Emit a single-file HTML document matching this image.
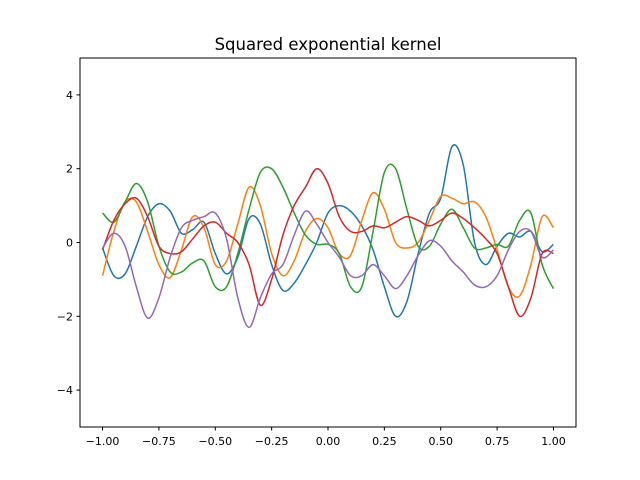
<!DOCTYPE html>
<html><head><meta charset="utf-8"><style>
body{margin:0;background:#fff;}
svg{display:block;font-family:"DejaVu Sans","Liberation Sans",sans-serif;}
</style></head><body>
<svg id="chart" width="640" height="480" viewBox="0 0 640 480" xmlns="http://www.w3.org/2000/svg">
<rect width="640" height="480" fill="#fff"/>
<text x="328" y="50" font-size="16.5" text-anchor="middle" fill="#000">Squared exponential kernel</text>
<g id="plot"></g>
<rect x="80" y="58" width="496" height="369" fill="none" stroke="#000" stroke-width="1"/>
<g id="xticks"></g><g id="yticks"></g>
</svg>
<script>
const xs = [];
for (let i = 0; i <= 40; i++) xs.push(-1 + i * 0.05);
const blue = [-0.15,-0.9,-0.85,-0.1,0.7,1.05,0.85,0.25,0.35,0.55,-0.3,-0.85,-0.4,0.65,0.5,-0.6,-1.3,-1.1,-0.6,0.0,0.8,1.0,0.85,0.45,-0.2,-1.2,-2.0,-1.6,-0.3,0.8,1.2,2.6,2.1,0.0,-0.6,-0.1,0.25,0.15,0.3,-0.25,-0.05];
const orange = [-0.9,0.3,1.1,1.1,0.3,-0.6,-0.95,-0.2,0.7,0.4,-0.6,-0.5,0.5,1.5,1.0,-0.3,-0.9,-0.5,0.3,0.65,0.4,-0.3,-0.35,0.6,1.35,0.9,0.0,-0.15,0.0,0.6,1.25,1.2,1.05,1.1,0.7,-0.2,-1.2,-1.45,-0.6,0.7,0.4];
const green = [0.8,0.55,1.1,1.6,1.1,-0.1,-0.8,-0.8,-0.55,-0.5,-1.2,-1.2,-0.3,0.9,1.9,2.0,1.5,0.8,0.2,-0.05,-0.05,-0.3,-1.2,-1.2,0.3,1.9,2.0,0.9,-0.1,-0.1,0.5,0.9,0.4,-0.15,-0.15,-0.05,-0.1,0.6,0.8,-0.6,-1.25];
const red = [-0.2,0.6,1.05,1.2,0.7,-0.1,-0.3,-0.25,0.1,0.45,0.55,0.25,0.0,-0.6,-1.7,-1.0,0.2,1.0,1.5,2.0,1.6,0.7,0.3,0.3,0.45,0.4,0.55,0.7,0.6,0.45,0.6,0.8,0.65,0.4,0.1,-0.3,-1.2,-2.0,-1.5,-0.3,-0.3];
const purple = [-0.15,0.25,-0.1,-1.2,-2.05,-1.5,-0.4,0.4,0.6,0.7,0.8,0.1,-1.5,-2.3,-1.5,-0.85,-0.6,0.2,0.85,0.5,0.0,-0.4,-0.9,-0.9,-0.6,-0.9,-1.25,-0.9,-0.35,0.05,-0.1,-0.5,-0.8,-1.15,-1.2,-0.9,-0.2,0.3,0.3,-0.4,-0.2];
const xTickVals = [-1.0,-0.75,-0.5,-0.25,0.0,0.25,0.5,0.75,1.0];
const xTickLabels = ["−1.00","−0.75","−0.50","−0.25","0.00","0.25","0.50","0.75","1.00"];
const yTickVals = [-4,-2,0,2,4];
const yTickLabels = ["−4","−2","0","2","4"];

const NS = "http://www.w3.org/2000/svg";
const X = v => 80 + (v + 1.1) / 2.2 * 496;
const Y = v => 427 - (v + 5) / 10 * 369;

function path(vals, color, name) {
  const p = xs.map((x, i) => [X(x), Y(vals[i])]);
  let d = "M" + p[0][0].toFixed(2) + "," + p[0][1].toFixed(2);
  for (let i = 0; i < p.length - 1; i++) {
    const p0 = p[Math.max(0, i - 1)], p1 = p[i], p2 = p[i + 1], p3 = p[Math.min(p.length - 1, i + 2)];
    const c1 = [p1[0] + (p2[0] - p0[0]) / 6, p1[1] + (p2[1] - p0[1]) / 6];
    const c2 = [p2[0] - (p3[0] - p1[0]) / 6, p2[1] - (p3[1] - p1[1]) / 6];
    d += " C" + c1.map(v => v.toFixed(2)).join(",") + " " + c2.map(v => v.toFixed(2)).join(",") + " " + p2.map(v => v.toFixed(2)).join(",");
  }
  const el = document.createElementNS(NS, "path");
  el.setAttribute("d", d);
  el.setAttribute("fill", "none");
  el.setAttribute("stroke", color);
  el.setAttribute("stroke-width", "1.5");
  
  
  document.getElementById("plot").appendChild(el);
}
path(blue, "#1f77b4", "series-blue");
path(orange, "#ff7f0e", "series-orange");
path(green, "#2ca02c", "series-green");
path(red, "#d62728", "series-red");
path(purple, "#9467bd", "series-purple");

const xg = document.getElementById("xticks");
xTickVals.forEach((v, i) => {
  const x = X(v);
  const l = document.createElementNS(NS, "line");
  l.setAttribute("x1", x); l.setAttribute("x2", x); l.setAttribute("y1", 427); l.setAttribute("y2", 430.5);
  l.setAttribute("stroke", "#000");
  
  
  xg.appendChild(l);
  const t = document.createElementNS(NS, "text");
  t.setAttribute("x", x); t.setAttribute("y", 445); t.setAttribute("font-size", "11");
  t.setAttribute("text-anchor", "middle");
  t.textContent = xTickLabels[i];
  
  
  xg.appendChild(t);
});
const yg = document.getElementById("yticks");
yTickVals.forEach((v, i) => {
  const y = Y(v);
  const l = document.createElementNS(NS, "line");
  l.setAttribute("x1", 76.5); l.setAttribute("x2", 80); l.setAttribute("y1", y); l.setAttribute("y2", y);
  l.setAttribute("stroke", "#000");
  
  
  yg.appendChild(l);
  const t = document.createElementNS(NS, "text");
  t.setAttribute("x", 73); t.setAttribute("y", y + 4); t.setAttribute("font-size", "11");
  t.setAttribute("text-anchor", "end");
  t.textContent = yTickLabels[i];
  
  
  yg.appendChild(t);
});
</script>
</body></html>
